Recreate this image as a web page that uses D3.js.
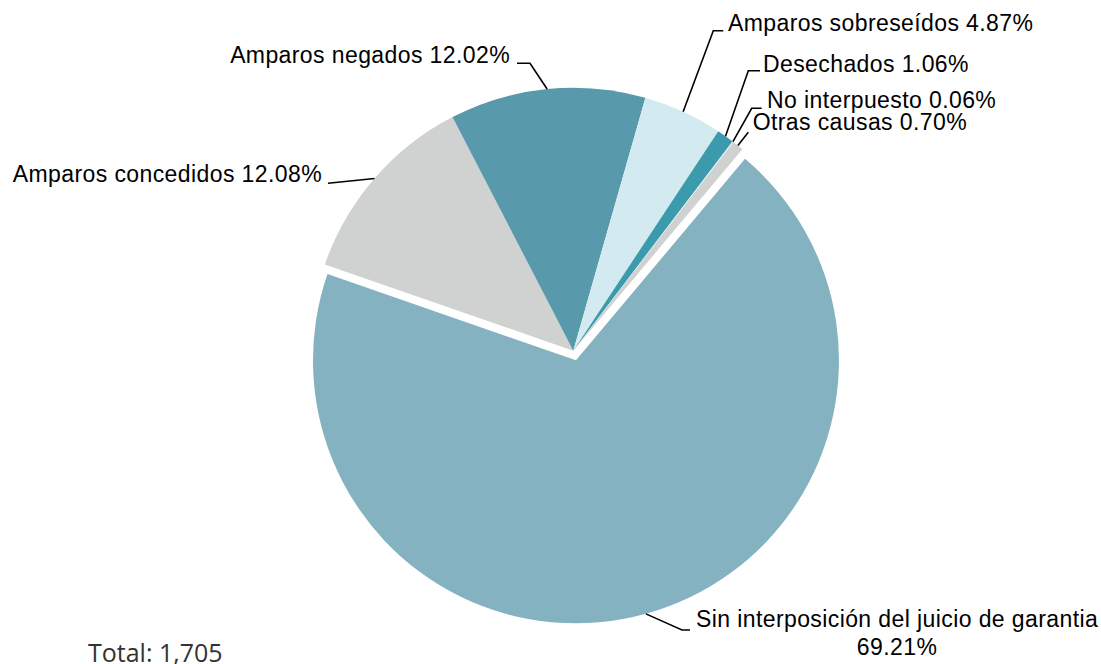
<!DOCTYPE html>
<html>
<head>
<meta charset="utf-8">
<script src="https://cdn.jsdelivr.net/npm/d3@7"></script>
<style>
  body { margin: 0; background: #fff; }
  text { font-family: "Liberation Sans", Arial, sans-serif; }
</style>
</head>
<body>
<svg id="chart" width="1101" height="664"></svg>
<script>
// datos
const categories = [
    "Sin interposición del juicio de garantia",
    "Amparos concedidos",
    "Amparos negados",
    "Amparos sobreseídos",
    "Desechados",
    "No interpuesto",
    "Otras causas"
];
const percents = [69.21, 12.08, 12.02, 4.87, 1.06, 0.06, 0.70];
const sliceColors = ["#85b2c0", "#d0d1d1", "#5899ab", "#d3eaf0", "#3b9bad", "#e8f3f6", "#d0d1d1"];
const totalLabel = "Total: 1,705";

const width = 1101, height = 664;
const cx = 573.3, cy = 350.7, radius = 263;
const explode = 10;
const startDeg = 40;

// posiciones de etiquetas: codo de la linea, final de la linea, texto
const labelLayout = [
    { elbow: [682, 630], end: [690, 630], text: [696, 627], anchor: "start", twoLines: true },
    { elbow: null, end: [328, 183.3], text: [322, 182], anchor: "end" },
    { elbow: [530, 63.3], end: [517, 63.3], text: [510, 63.3], anchor: "end" },
    { elbow: [713.3, 30.7], end: [723.3, 30.7], text: [728, 30.5], anchor: "start" },
    { elbow: [748.3, 70.7], end: [760, 70.7], text: [763, 71.5], anchor: "start" },
    { elbow: [751.7, 108.3], end: [761.7, 108.3], text: [767, 108.3], anchor: "start" },
    { elbow: null, end: [748.3, 132.3], text: [752.7, 130], anchor: "start" }
];

const svg = d3.select("#chart");

const data = categories.map((c, i) => ({ name: c, value: percents[i], color: sliceColors[i], layout: labelLayout[i] }));

const start = startDeg * Math.PI / 180;
const pie = d3.pie()
    .sort(null)
    .value(d => d.value)
    .startAngle(start)
    .endAngle(start + 2 * Math.PI);

const arc = d3.arc().innerRadius(0).outerRadius(radius);
const arcs = pie(data);

// desplazamiento de la rebanada grande
function offset(d, i) {
    if (i !== 0) return [0, 0];
    const mid = (d.startAngle + d.endAngle) / 2;
    return [explode * Math.sin(mid), -explode * Math.cos(mid)];
}

const g = svg.append("g").attr("transform", `translate(${cx},${cy})`);

g.selectAll("path.slice")
    .data(arcs)
    .enter()
    .append("path")
    .attr("class", "slice")
    .attr("d", arc)
    .attr("fill", d => d.data.color)
    .attr("transform", (d, i) => {
        const o = offset(d, i);
        return `translate(${o[0]},${o[1]})`;
    });

// lineas guia
arcs.forEach((d, i) => {
    const mid = (d.startAngle + d.endAngle) / 2;
    const o = offset(d, i);
    const px = cx + o[0] + radius * Math.sin(mid);
    const py = cy + o[1] - radius * Math.cos(mid);
    const lay = d.data.layout;
    const pts = [[px, py]];
    if (lay.elbow) pts.push(lay.elbow);
    pts.push(lay.end);
    svg.append("path")
        .attr("d", d3.line()(pts))
        .attr("fill", "none")
        .attr("stroke", "#000")
        .attr("stroke-width", 1.6);

    const pct = d.data.value.toFixed(2) + "%";
    if (lay.twoLines) {
        const t = svg.append("text")
            .attr("x", lay.text[0])
            .attr("y", lay.text[1])
            .attr("font-size", 23)
            .attr("letter-spacing", 0.4)
            .attr("fill", "#000")
            .text(d.data.name);
        const w = t.node().getComputedTextLength();
        svg.append("text")
            .attr("x", lay.text[0] + w / 2)
            .attr("y", lay.text[1] + 28.3)
            .attr("text-anchor", "middle")
            .attr("font-size", 23)
            .attr("letter-spacing", 0.4)
            .attr("fill", "#000")
            .text(pct);
    } else {
        svg.append("text")
            .attr("x", lay.text[0])
            .attr("y", lay.text[1])
            .attr("text-anchor", lay.anchor)
            .attr("font-size", 23)
            .attr("letter-spacing", 0.4)
            .attr("fill", "#000")
            .text(`${d.data.name} ${pct}`);
    }
});

svg.append("text")
    .attr("x", 88)
    .attr("y", 661.5)
    .attr("font-size", 25)
    .style("font-family", "'Open Sans', sans-serif")
    .attr("fill", "#333")
    .text(totalLabel);
</script>
</body>
</html>
